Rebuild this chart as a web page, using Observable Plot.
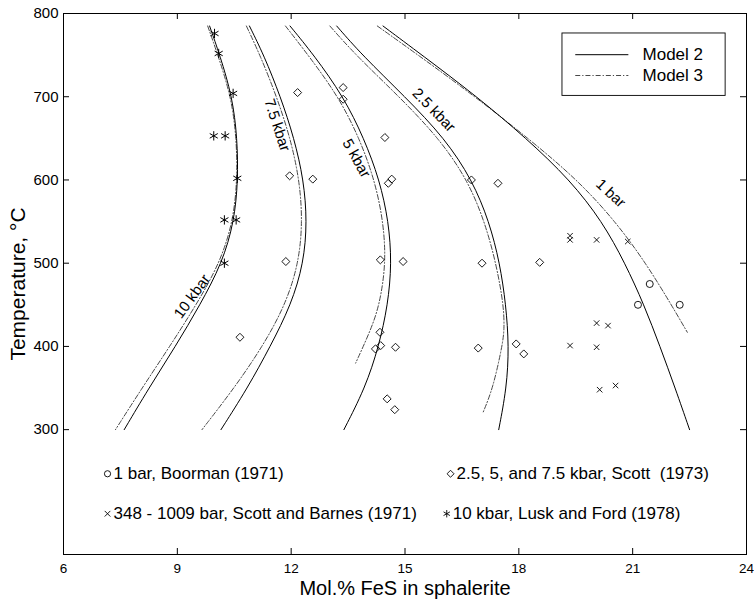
<!DOCTYPE html>
<html><head><meta charset="utf-8">
<script src="https://cdn.jsdelivr.net/npm/d3@7"></script>
<script src="https://cdn.jsdelivr.net/npm/@observablehq/plot@0.6"></script>
<style>body{margin:0;background:#fff}#chart{width:754px;height:604px}</style>
</head><body><div id="chart"></div>
<script>
// ---- Data: [mol.% FeS, temperature °C] ----
const model2_10kbar = [[9.85,785],[10.12,750],[10.45,700],[10.58,650],[10.6,600],[10.5,550],[10.18,500],[9.6,450],[8.95,400],[8.25,350],[7.6,300]];
const model3_10kbar = [[9.8,785],[10.07,750],[10.42,700],[10.56,650],[10.58,600],[10.47,550],[10.12,500],[9.5,450],[8.8,400],[8.07,350],[7.37,300]];
const model2_7_5kbar = [[10.9,785],[11.28,750],[11.72,700],[12.08,650],[12.33,600],[12.42,550],[12.33,500],[12.0,450],[11.45,400],[10.85,350],[10.15,300]];
const model3_7_5kbar = [[10.82,785],[11.18,750],[11.62,700],[11.98,650],[12.22,600],[12.3,550],[12.2,500],[11.85,450],[11.25,400],[10.5,350],[9.65,300]];
const model2_5kbar = [[11.97,785],[12.6,750],[13.38,700],[13.92,650],[14.33,600],[14.57,550],[14.65,500],[14.55,450],[14.31,400],[13.95,350],[13.39,300]];
const model3_5kbar = [[11.85,785],[12.45,750],[13.25,700],[13.8,650],[14.2,600],[14.43,550],[14.5,500],[14.33,450],[14.1,420],[13.7,380]];
const model2_2_5kbar = [[13.2,785],[13.87,750],[15.0,700],[16.05,650],[16.77,600],[17.22,550],[17.5,500],[17.66,450],[17.74,400],[17.68,350],[17.47,300]];
const model3_2_5kbar = [[13.02,785],[13.7,750],[14.85,700],[15.9,650],[16.65,600],[17.1,550],[17.4,500],[17.6,450],[17.62,420],[17.56,400],[17.32,350],[17.06,321]];
const model2_1bar = [[14.42,785],[15.45,750],[16.9,700],[18.2,650],[19.35,600],[20.2,550],[20.8,500],[21.3,450],[21.72,400],[22.12,350],[22.5,300]];
const model3_1bar = [[14.27,785],[15.35,750],[16.85,700],[18.25,650],[19.55,600],[20.55,550],[21.35,500],[22.02,450],[22.44,417]];

const boorman = [[21.45,475],[21.14,450],[22.24,450]];
const scottBarnes = [[19.35,533],[19.35,528],[20.05,528],[20.87,526],[20.05,428],[20.35,425],[19.35,401],[20.05,399],[20.13,348],[20.55,353]];
const scott = [[12.17,705],[11.96,605],[12.57,601],[11.86,502],[10.65,411],[13.37,711],[13.37,697],[14.47,651],[14.65,601],[14.56,596],[14.35,504],[14.95,502],[14.34,417],[14.22,397],[14.36,401],[14.75,399],[14.53,337],[14.73,324],[16.93,398],[17.93,403],[18.13,391],[16.75,600],[17.45,596],[17.03,500],[18.55,501]];
const luskFord = [[9.98,776],[10.09,752],[10.47,704],[9.96,653],[10.26,653],[10.58,602],[10.24,552],[10.55,552],[10.24,500]];

const xTicks = [6, 9, 12, 15, 18, 21, 24];
const yTicks = [300, 400, 500, 600, 700, 800];

const curveLabels = [["10 kbar", 9.39, 460], ["7.5 kbar", 11.63, 666], ["5 kbar", 13.72, 626], ["2.5 kbar", 15.76, 684], ["1 bar", 20.42, 584]];
const curveLabelAngle = {"10 kbar": -54, "7.5 kbar": 72, "5 kbar": 61, "2.5 kbar": 46, "1 bar": 43};

const sourceLabels = ["1 bar, Boorman (1971)", "348 - 1009 bar, Scott and Barnes (1971)", "2.5, 5, and 7.5 kbar, Scott  (1973)", "10 kbar, Lusk and Ford (1978)"];
const sourceAnchors = [[7.16, 247], [7.16, 199], [16.2, 247], [16.1, 199]];
const modelNames = ["Model 2", "Model 3"];

// ---- Build tables ----
const toRows = (arr, name) => arr.map(([x, T]) => ({x, T, name}));
const m2 = [
  ...toRows(model2_10kbar, "10"), ...toRows(model2_7_5kbar, "7.5"), ...toRows(model2_5kbar, "5"),
  ...toRows(model2_2_5kbar, "2.5"), ...toRows(model2_1bar, "1")];
const m3 = [
  ...toRows(model3_10kbar, "10"), ...toRows(model3_7_5kbar, "7.5"), ...toRows(model3_5kbar, "5"),
  ...toRows(model3_2_5kbar, "2.5"), ...toRows(model3_1bar, "1")];

const W = 754, H = 604, mT = 13, mB = 50, mL = 63, mR = 8;
const plotH = H - mT - mB, plotW = W - mL - mR;
const tick = 6;
const font = "'Liberation Sans', Arial, Helvetica, sans-serif";
const dash = "5,2,1.2,2";
const symbols = ["circle", "times", "diamond2", "asterisk"];
const symbolR = [3.5, 2.6, 3.6, 4.4];
const legendRows = sourceLabels.map((t, i) => ({t, x: sourceAnchors[i][0], T: sourceAnchors[i][1], s: symbols[i], r: symbolR[i]}));

// legend box (top right) anchored in data units
const legBox = {x1: 19.15, x2: 23.45, y1: 701, y2: 776};
const legRows = modelNames.map((m, i) => ({m, T: [750.5, 725.5][i]}));

const chart = Plot.plot({
  width: W, height: H,
  marginTop: mT, marginBottom: mB, marginLeft: mL, marginRight: mR,
  style: {fontFamily: font, background: "white", color: "black"},
  x: {domain: [6, 24]},
  y: {domain: [150, 800]},
  marks: [
    Plot.line(m3, {x: "x", y: "T", z: "name", stroke: "#333", strokeWidth: 0.9, strokeDasharray: dash, curve: "basis"}),
    Plot.line(m2, {x: "x", y: "T", z: "name", stroke: "black", strokeWidth: 1, curve: "basis"}),
    Plot.dot(boorman, {x: d => d[0], y: d => d[1], symbol: "circle", r: 3.5, stroke: "black", strokeWidth: 0.9, fill: "none"}),
    Plot.dot(scottBarnes, {x: d => d[0], y: d => d[1], symbol: "times", r: 2.6, stroke: "black", strokeWidth: 0.9, fill: "none"}),
    Plot.dot(scott, {x: d => d[0], y: d => d[1], symbol: "diamond2", r: 3.6, stroke: "black", strokeWidth: 0.9, fill: "none"}),
    Plot.dot(luskFord, {x: d => d[0], y: d => d[1], symbol: "asterisk", r: 4.4, stroke: "black", strokeWidth: 1, fill: "none"}),
    Plot.text(curveLabels, {x: d => d[1], y: d => d[2], text: d => d[0], rotate: d => curveLabelAngle[d[0]], fontSize: 15, fill: "black"}),
    // bottom source legend
    Plot.dot(legendRows, {x: "x", y: "T", symbol: "s", r: "r", stroke: "black", strokeWidth: 0.9, fill: "none"}),
    Plot.text(legendRows, {x: "x", y: "T", text: "t", textAnchor: "start", dx: 6, fontSize: 17, fill: "black", lineAnchor: "middle"}),
    // model legend box
    Plot.rect([legBox], {x1: "x1", x2: "x2", y1: "y1", y2: "y2", fill: "white", stroke: "black", strokeWidth: 0.9}),
    Plot.ruleY([legRows[0]], {y: "T", x1: 19.5, x2: 20.9, stroke: "black", strokeWidth: 1}),
    Plot.ruleY([legRows[1]], {y: "T", x1: 19.5, x2: 20.9, stroke: "#333", strokeWidth: 0.9, strokeDasharray: dash}),
    Plot.text(legRows, {x: 21.26, y: "T", text: "m", textAnchor: "start", fontSize: 17, fill: "black", lineAnchor: "middle"}),
    // frame and inward ticks
    Plot.frame({stroke: "black", strokeWidth: 1}),
    Plot.tickX(xTicks, {x: d => d, insetBottom: plotH - tick, stroke: "black"}),
    Plot.tickX(xTicks, {x: d => d, insetTop: plotH - tick, stroke: "black"}),
    Plot.tickY(yTicks, {y: d => d, insetRight: plotW - tick, stroke: "black"}),
    Plot.tickY(yTicks, {y: d => d, insetLeft: plotW - tick, stroke: "black"}),
    Plot.axisX({ticks: xTicks, tickSize: 0, tickPadding: 9, fontSize: 13.5, label: null, tickFormat: d => String(d)}),
    Plot.axisY({ticks: yTicks, tickSize: 0, tickPadding: 5, fontSize: 15, label: null, tickFormat: d => String(d)}),
    Plot.text(["Temperature, °C"], {frameAnchor: "left", text: d => d, rotate: -90, dx: -45, textAnchor: "middle", lineAnchor: "middle", fontSize: 21, fill: "black"}),
    Plot.text(["Mol.% FeS in sphalerite"], {frameAnchor: "bottom", text: d => d, dy: 34, textAnchor: "middle", lineAnchor: "middle", fontSize: 20, fill: "black"})
  ]
});
document.getElementById("chart").appendChild(chart);
</script>
</body></html>
